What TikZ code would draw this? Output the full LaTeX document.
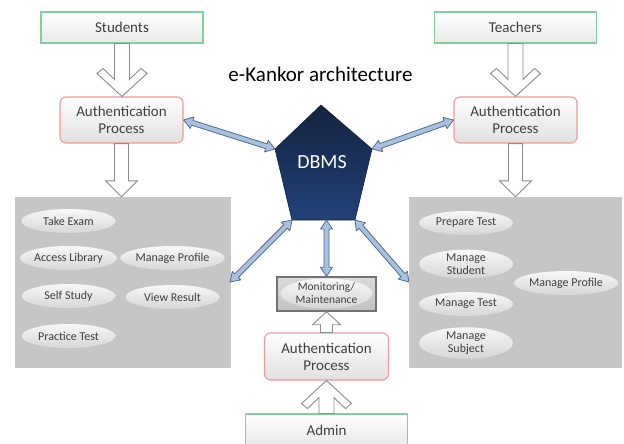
\documentclass[tikz,border=0pt]{standalone}
\usepackage{fontspec}
\setmainfont{Carlito}
\usetikzlibrary{calc}
\definecolor{txt}{HTML}{3F3F3F}
\definecolor{greenb}{HTML}{7FD19A}
\definecolor{redb}{HTML}{F29A9A}
\definecolor{panel}{HTML}{C6C6C6}
\definecolor{arrfill}{HTML}{A9C1DE}
\definecolor{arrdraw}{HTML}{526C8E}
\definecolor{navytop}{HTML}{14223D}
\definecolor{navybot}{HTML}{21427A}
\tikzset{
  actor/.style={draw=greenb, line width=1.1pt, top color=white, bottom color=black!9,
    minimum width=162pt, minimum height=31pt, text=txt, font=\fontsize{15}{17}\selectfont},
  authbox/.style={draw=redb, line width=1.1pt, rounded corners=6pt, top color=white, bottom color=black!12,
    minimum width=123pt, minimum height=46pt, text=txt, align=center, font=\fontsize{15}{17}\selectfont},
  panelbox/.style={fill=panel, draw=black!22, minimum height=170pt},
  usecase/.style={ellipse, top color=black!3, bottom color=black!16, minimum width=94pt, minimum height=24pt,
    inner sep=0pt, text=txt, align=center, font=\fontsize{12}{12.5}\selectfont},
  blockarr/.style={draw=black!45, line width=0.9pt, fill=white, line join=miter},
  dblarr/.style={draw=arrdraw, line width=0.8pt, fill=arrfill, line join=round},
}
\usetikzlibrary{shapes.geometric}
\newcommand\chevarrow[2]{\draw[blockarr] let \p1=#1,\p2=#2,\n1={atan2(\y2-\y1,\x2-\x1)},\n2={veclen(\x2-\x1,\y2-\y1)} in
  [shift={(\p1)},rotate=\n1] (0,-7.5) -- (\n2-17,-7.5) -- (\n2-28,-19) -- (\n2-23,-25) -- (\n2,0) -- (\n2-23,25) -- (\n2-28,19) -- (\n2-17,7.5) -- (0,7.5) -- cycle;}
\newcommand\plainarrow[2]{\draw[blockarr] let \p1=#1,\p2=#2,\n1={atan2(\y2-\y1,\x2-\x1)},\n2={veclen(\x2-\x1,\y2-\y1)} in
  [shift={(\p1)},rotate=\n1] (0,-7) -- (\n2-16,-7) -- (\n2-16,-16) -- (\n2,0) -- (\n2-16,16) -- (\n2-16,7) -- (0,7) -- cycle;}
\newcommand\smallarrow[2]{\draw[blockarr] let \p1=#1,\p2=#2,\n1={atan2(\y2-\y1,\x2-\x1)},\n2={veclen(\x2-\x1,\y2-\y1)} in
  [shift={(\p1)},rotate=\n1] (0,-6) -- (\n2-13,-6) -- (\n2-13,-14) -- (\n2,0) -- (\n2-13,14) -- (\n2-13,6) -- (0,6) -- cycle;}
\newcommand\dblarrow[2]{\draw[dblarr] let \p1=#1,\p2=#2,\n1={atan2(\y2-\y1,\x2-\x1)},\n2={veclen(\x2-\x1,\y2-\y1)} in
  [shift={(\p1)},rotate=\n1] (0,0) -- (9,-6) -- (9,-2.5) -- (\n2-9,-2.5) -- (\n2-9,-6) -- (\n2,0) -- (\n2-9,6) -- (\n2-9,2.5) -- (9,2.5) -- (9,6) -- cycle;}
\begin{document}
\begin{tikzpicture}[x=1pt,y=-1pt]
\useasboundingbox (0,0) rectangle (624,444);
\fill[white] (0,0) rectangle (624,444);

% actors
\node[actor] (students) at (122,27.5) {Students};
\node[actor] (teachers) at (515.5,27.5) {Teachers};
\node[actor, minimum height=32pt] (admin) at (326.5,430) {Admin};

% authentication
\node[authbox] (authL) at (121.5,120) {Authentication\\Process};
\node[authbox] (authR) at (515.5,120) {Authentication\\Process};
\node[authbox, minimum width=124pt, minimum height=47pt] (authB) at (326.5,356.5) {Authentication\\Process};

% title
\node[font=\fontsize{21}{23}\selectfont] (title) at (320.5,74) {e-Kankor architecture};

% DBMS pentagon
\coordinate (ptop) at (321,105);
\coordinate (pl) at (275,149);
\coordinate (pr) at (372,149);
\coordinate (pbl) at (292,220);
\coordinate (pbr) at (355,220);
\shade[top color=navytop, bottom color=navybot, draw=navytop, line width=0.6pt] (ptop) -- (pr) -- (pbr) -- (pbl) -- (pl) -- cycle;
\node[text=white, font=\fontsize{20}{22}\selectfont] (dbms) at (322,162) {DBMS};

% panels
\node[panelbox, minimum width=215pt] (panelL) at (122.5,282) {};
\node[panelbox, minimum width=212pt] (panelR) at (515,282) {};

% student use cases
\node[usecase] (takeexam) at (68.5,221) {Take Exam};
\node[usecase] (library) at (68.5,258) {Access Library};
\node[usecase] (profileS) at (172.5,258) {Manage Profile};
\node[usecase] (selfstudy) at (68.5,296) {Self Study};
\node[usecase] (viewresult) at (172.5,297) {View Result};
\node[usecase] (practice) at (68.5,336) {Practice Test};

% teacher use cases
\node[usecase] (prepare) at (466,223) {Prepare Test};
\node[usecase, minimum height=26pt] (mstudent) at (466,264) {Manage\\Student};
\node[usecase] (mtest) at (466,304) {Manage Test};
\node[usecase, minimum height=26pt] (msubject) at (466,343) {Manage\\Subject};
\node[usecase] (profileT) at (566,283) {Manage Profile};

% monitoring
\node[draw=black!55, line width=1.4pt, top color=black!14, bottom color=black!24,
  minimum width=99pt, minimum height=34pt] (mon) at (326.5,294) {};
\node[usecase, minimum width=92pt, minimum height=29pt, font=\fontsize{11.5}{13}\selectfont] (monitor) at (326.5,293.5) {Monitoring/\\Maintenance};

% block arrows
\chevarrow{(students.south)}{(students.south |- authL.north)}
\chevarrow{(teachers.south)}{(teachers.south |- authR.north)}
\plainarrow{(authL.south)}{(authL.south |- panelL.north)}
\plainarrow{(authR.south)}{(authR.south |- panelR.north)}
\chevarrow{(admin.north)}{(admin.north |- authB.south)}
\smallarrow{(authB.north)}{(authB.north |- mon.south)}

% DBMS connectors
\dblarrow{(authL.east)}{(pl)}
\dblarrow{(authR.west)}{(pr)}
\dblarrow{(pbl)}{(panelL.east)}
\dblarrow{(pbr)}{(panelR.west)}
\dblarrow{(mon.north |- pbl)}{(mon.north)}
\end{tikzpicture}
\end{document}
